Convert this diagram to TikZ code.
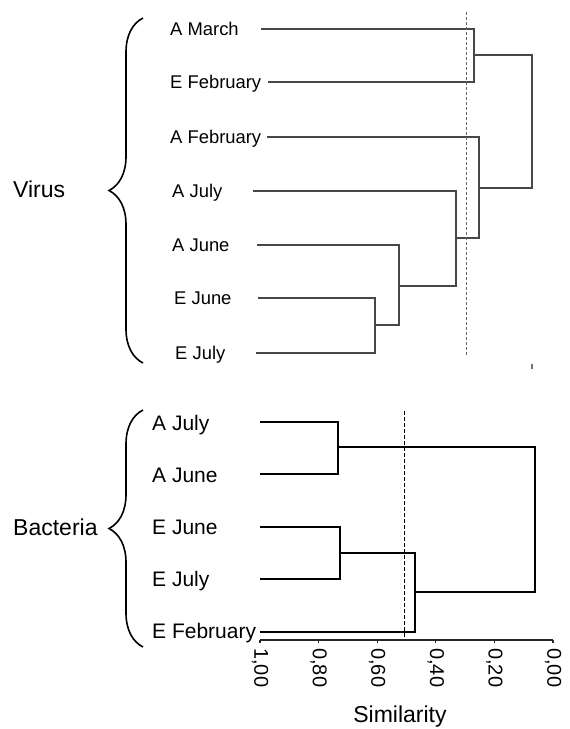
\documentclass[tikz,border=0pt]{standalone}
\usepackage{fontspec}
\setmainfont{Liberation Sans}
\usetikzlibrary{decorations.pathreplacing}

\begin{document}
\begin{tikzpicture}[x=1pt, y=-1pt,
        leaf/.style={anchor=base west, inner sep=0pt, font=\fontsize{18.4}{20}\selectfont},
        leafb/.style={anchor=base west, inner sep=0pt, font=\fontsize{21}{23}\selectfont},
        group/.style={anchor=base west, inner sep=0pt, font=\fontsize{23}{25}\selectfont},
        treev/.style={draw=black!72, line width=1.1pt},
        treeb/.style={draw=black, line width=1.8pt},
        cutv/.style={draw=black!60, line width=1pt, dash pattern=on 3pt off 2pt},
        cutb/.style={draw=black, line width=0.9pt, dash pattern=on 4pt off 2pt},
        curly/.style={draw, decorate, decoration={brace, amplitude=34pt}, line width=1.6pt}]
        \useasboundingbox (0,0) rectangle (570,729);

        % Nodes (virus)
        \node (virus) [group] at (13,197) {Virus};
        \node (a_march) [leaf] at (170,35) {A March};
        \node (e_february) [leaf] at (170,88) {E February};
        \node (a_february) [leaf] at (170,143) {A February};
        \node (a_july) [leaf] at (172,197) {A July};
        \node (a_june) [leaf] at (172,251) {A June};
        \node (e_june) [leaf] at (174,304) {E June};
        \node (e_july) [leaf] at (175,359) {E July};

        % Leaves and merges (virus)
        \coordinate (a_march_s) at (261,29);
        \coordinate (e_february_s) at (268,82);
        \coordinate (a_february_s) at (267,137);
        \coordinate (a_july_s) at (253,191);
        \coordinate (a_june_s) at (257,245);
        \coordinate (e_june_s) at (258,298);
        \coordinate (e_july_s) at (256,353);
        \coordinate (m_e_summer) at (375,325);
        \coordinate (m_a_june) at (399,286);
        \coordinate (m_a_july) at (456,238);
        \coordinate (m_a_february) at (479,188);
        \coordinate (m_march_feb) at (474,55);
        \coordinate (m_virus) at (532,121);
        \coordinate (cutv_top) at (466,12);
        \coordinate (cutv_bottom) at (466,355);
        \coordinate (mark_top) at (532,364);
        \coordinate (mark_bottom) at (532,369);
        \coordinate (virus_brace_top) at (143,18);
        \coordinate (virus_brace_bottom) at (143,363);

        % Lines (virus)
        \draw [treev] (e_june_s) -| (m_e_summer) |- (e_july_s);
        \draw [treev] (a_june_s) -| (m_a_june) |- (m_e_summer);
        \draw [treev] (a_july_s) -| (m_a_july) |- (m_a_june);
        \draw [treev] (a_february_s) -| (m_a_february) |- (m_a_july);
        \draw [treev] (a_march_s) -| (m_march_feb) |- (e_february_s);
        \draw [treev] (m_march_feb) -| (m_virus) |- (m_a_february);
        \draw [cutv] (cutv_top) -- (cutv_bottom);
        \draw [black!55, line width=1.2pt] (mark_top) -- (mark_bottom);
        \draw [curly] (virus_brace_bottom) -- (virus_brace_top);

        % Nodes (bacteria)
        \node (bacteria) [group] at (13,535.5) {Bacteria};
        \node (b_a_july) [leafb] at (152,430.5) {A July};
        \node (b_a_june) [leafb] at (152,482.5) {A June};
        \node (b_e_june) [leafb] at (152,534.5) {E June};
        \node (b_e_july) [leafb] at (152,586.5) {E July};
        \node (b_e_february) [leafb] at (152,638.5) {E February};

        % Leaves and merges (bacteria)
        \coordinate (b_a_july_s) at (260,422);
        \coordinate (b_a_june_s) at (260,474);
        \coordinate (b_e_june_s) at (260,527);
        \coordinate (b_e_july_s) at (260,579);
        \coordinate (b_e_february_s) at (260,632);
        \coordinate (m_b_a) at (338,447);
        \coordinate (m_b_e) at (340,553);
        \coordinate (m_b_e_february) at (415,592);
        \coordinate (m_bacteria) at (535,520);
        \coordinate (cutb_top) at (404,411);
        \coordinate (cutb_bottom) at (404,638);
        \coordinate (bacteria_brace_top) at (143,410);
        \coordinate (bacteria_brace_bottom) at (143,647);

        % Lines (bacteria)
        \draw [treeb] (b_a_july_s) -| (m_b_a) |- (b_a_june_s);
        \draw [treeb] (b_e_june_s) -| (m_b_e) |- (b_e_july_s);
        \draw [treeb] (m_b_e) -| (m_b_e_february) |- (b_e_february_s);
        \draw [treeb] (m_b_a) -| (m_bacteria) |- (m_b_e_february);
        \draw [cutb] (cutb_top) -- (cutb_bottom);
        \draw [curly] (bacteria_brace_bottom) -- (bacteria_brace_top);

        % Axis
        \coordinate (axis_start) at (260,640);
        \coordinate (axis_end) at (553,640);
        \draw [black!85, line width=1.1pt] (axis_start) -- (axis_end);
        \foreach \val/\txt [count=\i] in {1/{1,00}, 0.8/{0,80}, 0.6/{0,60}, 0.4/{0,40}, 0.2/{0,20}, 0/{0,00}} {
            \coordinate (tick_\i) at ({260+293*(1-\val)},640);
            \draw [black!85, line width=1.1pt] (tick_\i) -- ++(0,3);
            \node (tick_label_\i) [rotate=-90, anchor=west, inner sep=0pt, font=\fontsize{20}{22}\selectfont] at ({260+293*(1-\val)},648) {\txt};
        }
        \node (similarity) [anchor=base, inner sep=0pt, font=\fontsize{23}{25}\selectfont] at (400,722) {Similarity};

    \end{tikzpicture}
\end{document}
